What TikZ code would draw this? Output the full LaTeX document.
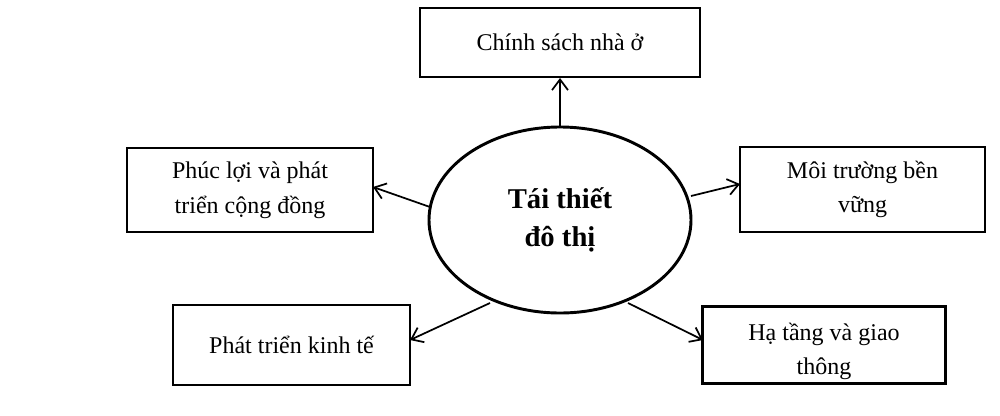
\documentclass[tikz,border=0pt]{standalone}
\usepackage{fontspec}
\setmainfont{Liberation Serif}
\usetikzlibrary{shapes.geometric,arrows.meta}
\begin{document}
\begin{tikzpicture}[x=0.75pt,y=-0.75pt,
  box/.style={draw,line width=1.5pt,inner sep=0pt,font=\fontsize{18}{26}\selectfont,align=center},
  arr/.style={-{Straight Barb[length=8pt,width=12pt,line width=1.3pt]},line width=1.3pt}]
\useasboundingbox (0,0) rectangle (1000,415);
\fill[white] (0,0) rectangle (1000,415);
\node[draw,ellipse,line width=2.2pt,inner sep=0pt,minimum width=262*0.75pt,minimum height=186*0.75pt,font=\bfseries\fontsize{21.5}{29}\selectfont,align=center] (c) at (560,220) {Tái thiết\\đô thị};
\node[box,minimum width=280*0.75pt,minimum height=69*0.75pt] (t) at (560,42.5) {Chính sách nhà ở};
\node[box,minimum width=246*0.75pt,minimum height=84*0.75pt] (l) at (250,190) {Phúc lợi và phát\\triển cộng đồng};
\node[box,minimum width=245*0.75pt,minimum height=85*0.75pt] (r) at (862.5,189.5) {Môi trường bền\\vững};
\node[box,minimum width=237*0.75pt,minimum height=80*0.75pt] (bl) at (291.5,345) {Phát triển kinh tế};
\node[box,minimum width=242*0.75pt,minimum height=76*0.75pt] (br) at (824,345) {};
\begin{scope}
\clip (br.south west) rectangle (br.north east);
\node[font=\fontsize{18}{26}\selectfont,align=center,anchor=north] at (824,318) {Hạ tầng và giao\\thông};
\end{scope}
\draw[line width=1.5pt] (br.south west) rectangle (br.north east);
\coordinate (c1) at (560,128);
\coordinate (c2) at (430,207);
\coordinate (c3) at (691,196);
\coordinate (c4) at (490,303);
\coordinate (c5) at (628,303);
\draw[arr] (c1) -- (t.south);
\draw[arr] (c2) -- (373,187);
\draw[arr] (c3) -- (740,184);
\draw[arr] (c4) -- (410,340);
\draw[arr] (c5) -- (703,340);
\end{tikzpicture}
\end{document}
